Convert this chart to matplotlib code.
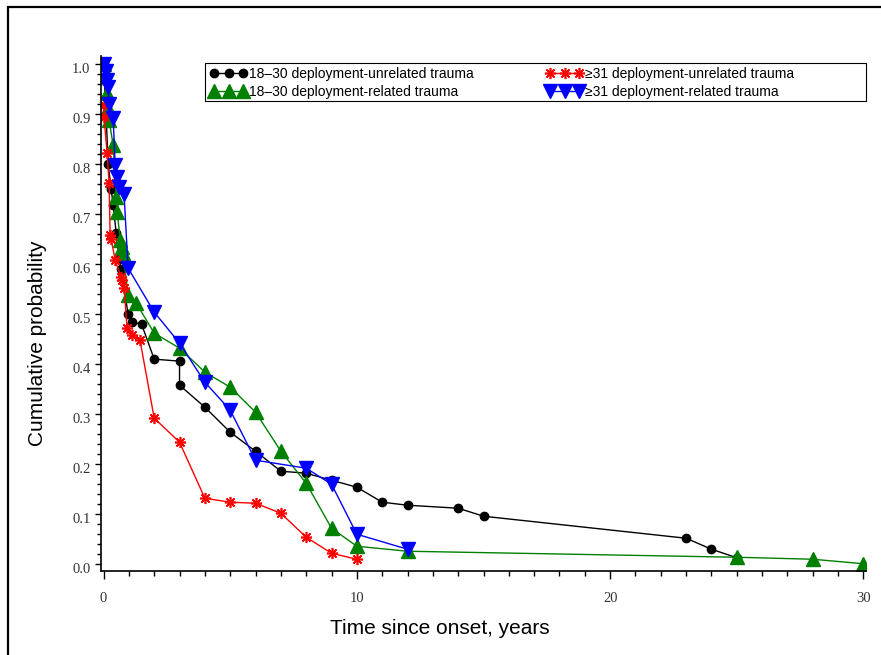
import numpy as np
import matplotlib.pyplot as plt
import matplotlib.transforms as mtrans
from matplotlib.patches import Rectangle
from matplotlib.ticker import MultipleLocator, FormatStrFormatter

# ---- data ----
# 18-30, deployment-unrelated trauma
t_young_unrel = [0, 0.1, 0.18, 0.3, 0.38, 0.5, 0.62, 0.69, 0.97, 1.13, 1.5, 2, 3, 3, 4, 5, 6, 7, 8, 9,
                 10, 11, 12, 14, 15, 23, 24, 25]
p_young_unrel = [1.0, 0.90, 0.80, 0.749, 0.717, 0.661, 0.609, 0.589, 0.499, 0.483, 0.479, 0.409, 0.405,
                 0.357, 0.313, 0.263, 0.225, 0.185, 0.181, 0.167, 0.153, 0.123, 0.117, 0.111, 0.095,
                 0.051, 0.029, 0.012]

# 18-30, deployment-related trauma
t_young_rel = [0, 0.1, 0.14, 0.18, 0.22, 0.38, 0.5, 0.54, 0.66, 0.73, 0.77, 0.97, 1.29, 2, 3, 4, 5, 6,
               7, 8, 9, 10, 12, 25, 28, 30]
p_young_rel = [1.0, 0.973, 0.941, 0.911, 0.887, 0.837, 0.733, 0.703, 0.647, 0.633, 0.621, 0.537, 0.521,
               0.461, 0.431, 0.383, 0.353, 0.303, 0.225, 0.161, 0.071, 0.035, 0.025, 0.013, 0.009, 0.0]

# >=31, deployment-unrelated trauma
t_old_unrel = [0, 0.02, 0.14, 0.22, 0.26, 0.3, 0.46, 0.69, 0.73, 0.81, 0.93, 1.13, 1.44, 2, 3, 4, 5, 6,
               7, 8, 9, 10]
p_old_unrel = [0.917, 0.893, 0.821, 0.761, 0.657, 0.649, 0.607, 0.573, 0.567, 0.551, 0.471, 0.457, 0.447,
               0.291, 0.243, 0.131, 0.123, 0.121, 0.101, 0.053, 0.021, 0.009]

# >=31, deployment-related trauma
t_old_rel = [0, 0.1, 0.14, 0.18, 0.22, 0.38, 0.46, 0.54, 0.62, 0.81, 0.97, 2, 3, 4, 5, 6, 8, 9, 10, 12]
p_old_rel = [1.0, 0.985, 0.967, 0.953, 0.919, 0.891, 0.797, 0.773, 0.753, 0.739, 0.591, 0.503, 0.441,
             0.363, 0.307, 0.207, 0.191, 0.159, 0.059, 0.029]

labels = ['18\u201330 deployment-unrelated trauma', '18\u201330 deployment-related trauma',
          '\u226531 deployment-unrelated trauma', '\u226531 deployment-related trauma']

# ---- figure ----
W, H = 881, 655
fig = plt.figure(figsize=(W / 100, H / 100), dpi=100)
ax = fig.add_axes([101 / W, 1 - 571 / H, (866 - 101) / W, (571 - 56) / H])

h1, = ax.plot(t_young_unrel, p_young_unrel, color='black', lw=1, marker='o', ms=6)
h2, = ax.plot(t_young_rel, p_young_rel, color='green', lw=1, marker='^', ms=9.5)
h3, = ax.plot(t_old_unrel, p_old_unrel, color='red', lw=1, marker=(8, 2, 0), ms=8, mew=1.2)
h4, = ax.plot(t_old_rel, p_old_rel, color='blue', lw=1, marker='v', ms=9.5)

ax.set_xlim(-0.1, 30.1)
ax.set_ylim(-0.0145, 1.015)

for s in ['top', 'right']:
    ax.spines[s].set_visible(False)
for s in ['left', 'bottom']:
    ax.spines[s].set_linewidth(1.2)

ax.xaxis.set_major_locator(MultipleLocator(10))
ax.xaxis.set_minor_locator(MultipleLocator(1))
ax.yaxis.set_major_locator(MultipleLocator(0.1))
ax.yaxis.set_minor_locator(MultipleLocator(0.02))
ax.yaxis.set_major_formatter(FormatStrFormatter('%.1f'))

ax.tick_params(axis='x', which='major', length=6, width=1, pad=9)
ax.tick_params(axis='x', which='minor', length=3.5, width=1)
ax.tick_params(axis='y', which='major', length=4.5, width=1, pad=3)
ax.tick_params(axis='y', which='minor', length=3, width=1)

# y tick labels sit a few pixels below their ticks in the reference
shift = mtrans.ScaledTranslation(0, -4.5 / 100, fig.dpi_scale_trans)
for lab in ax.get_yticklabels():
    lab.set_transform(lab.get_transform() + shift)
for lab in ax.get_xticklabels() + ax.get_yticklabels():
    lab.set_fontfamily('Liberation Serif')
    lab.set_fontsize(10.5)
    lab.set_color('#333333')

ax.set_xlabel('Time since onset, years', fontfamily='Liberation Sans', fontsize=15)
ax.set_ylabel('Cumulative probability', fontfamily='Liberation Sans', fontsize=15)
ax.xaxis.set_label_coords(0.443, -0.094)
ax.yaxis.set_label_coords(-0.071, 0.443)

leg = fig.legend([h1, h2, h3, h4], labels, ncol=2, loc='upper left',
                 bbox_to_anchor=(210 / W, 1 - 67 / H), frameon=False, numpoints=3,
                 prop={'family': 'Liberation Sans', 'size': 10},
                 handlelength=2.7, handletextpad=0.1, columnspacing=5.2,
                 labelspacing=0.3, borderpad=0, borderaxespad=0)

# legend frame and outer border
fig.add_artist(Rectangle((205 / W, 1 - 101 / H), (866 - 205) / W, 38 / H,
                         transform=fig.transFigure, fill=False, ec='black', lw=0.8))
fig.add_artist(Rectangle((8 / W, -0.1), 1.2, 1.1 - 7 / H,
                         transform=fig.transFigure, fill=False, ec='black', lw=1.6))

fig.savefig('out.png', dpi=100)
